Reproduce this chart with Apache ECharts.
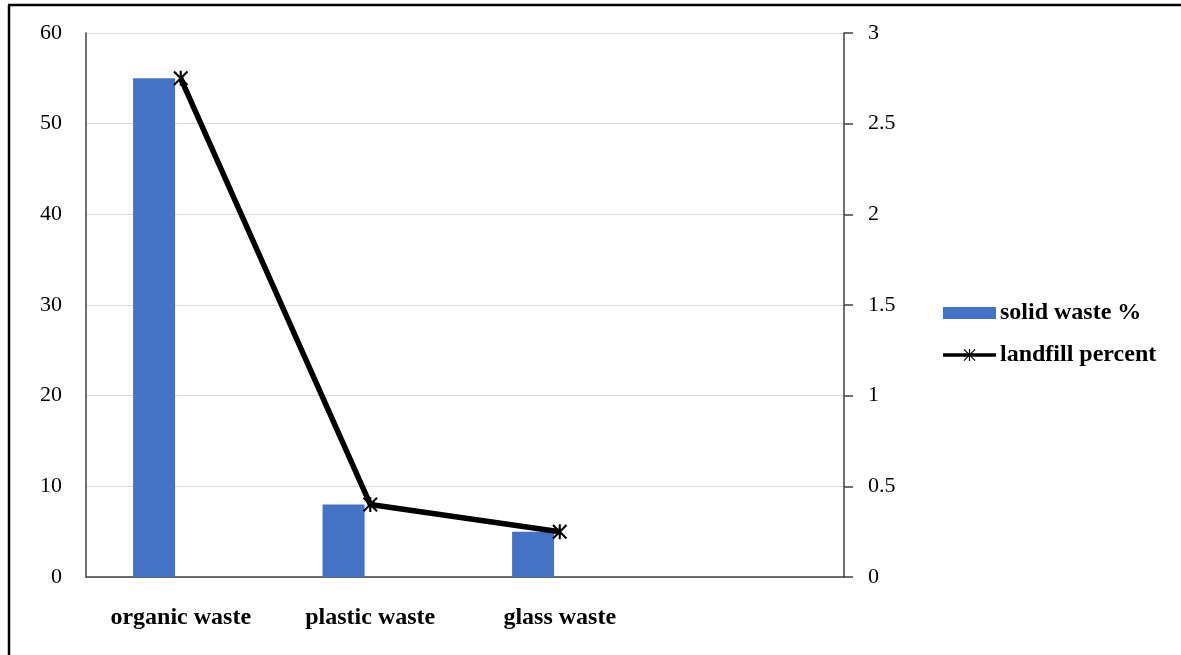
<!DOCTYPE html>
<html>
<head>
<meta charset="utf-8">
<script src="https://cdn.jsdelivr.net/npm/echarts@6/dist/echarts.min.js"></script>
<style>
html,body{margin:0;padding:0;background:#fff;}
#chart{width:1181px;height:655px;}
</style>
</head>
<body>
<div id="chart"></div>
<script>
var categories = ['organic waste', 'plastic waste', 'glass waste', ''];
var solidWaste = [55, 8, 5, null];
var landfillPercent = [2.75, 0.4, 0.25, null];
var leftTicks = {min: 0, max: 60, interval: 10};
var rightTicks = {min: 0, max: 3, interval: 0.5};

var FONT = '"Liberation Serif", "Times New Roman", "DejaVu Serif", serif';
var STAR = 'path://M4.3 0 L5.7 0 L5.7 10 L4.3 10 Z M0 1 L1 0 L10 9 L9 10 Z M9 0 L10 1 L1 10 L0 9 Z';
var LEGEND_LINE_STAR = 'path://M0 4.2 L53 4.2 L53 7.8 L0 7.8 Z ' +
  'M25.9 0 L27.1 0 L27.1 12 L25.9 12 Z ' +
  'M20.5 0.8 L21.3 0 L32.5 11.2 L31.7 12 Z ' +
  'M31.7 0 L32.5 0.8 L21.3 12 L20.5 11.2 Z';

var chart = echarts.init(document.getElementById('chart'), null, {renderer: 'canvas'});
chart.setOption({
  backgroundColor: '#ffffff',
  animation: false,
  textStyle: {fontFamily: FONT},
  grid: {left: 86, right: 337, top: 33, bottom: 78, containLabel: false},
  legend: {
    data: [
      {name: 'solid waste %', icon: 'rect'},
      {name: 'landfill percent', icon: LEGEND_LINE_STAR, itemStyle: {color: '#000', borderWidth: 0}}
    ],
    orient: 'vertical',
    left: 943,
    top: 300,
    padding: 0,
    itemWidth: 53,
    itemHeight: 12,
    itemGap: 16,
    textStyle: {fontFamily: FONT, fontSize: 24, fontWeight: 'bold', color: '#000', lineHeight: 26, padding: [0, 0, 0, -1]}
  },
  xAxis: {
    type: 'category',
    data: categories,
    axisLine: {show: true, lineStyle: {color: '#404040', width: 1.5}},
    axisTick: {show: false},
    axisLabel: {fontFamily: FONT, fontSize: 24, fontWeight: 'bold', color: '#000', margin: 29, interval: 0}
  },
  yAxis: [
    {
      type: 'value',
      min: leftTicks.min, max: leftTicks.max, interval: leftTicks.interval,
      position: 'left',
      axisLine: {show: true, lineStyle: {color: '#404040', width: 1.5}},
      axisTick: {show: false},
      axisLabel: {fontFamily: FONT, fontSize: 22, color: '#000', margin: 24},
      splitLine: {show: true, lineStyle: {color: '#d9d9d9', width: 1}}
    },
    {
      type: 'value',
      min: rightTicks.min, max: rightTicks.max, interval: rightTicks.interval,
      position: 'right',
      axisLine: {show: true, lineStyle: {color: '#404040', width: 1.5}},
      axisTick: {show: true, inside: false, length: 9, lineStyle: {color: '#404040', width: 1.5}},
      axisLabel: {fontFamily: FONT, fontSize: 22, color: '#000', margin: 24},
      splitLine: {show: false}
    }
  ],
  series: [
    {
      name: 'solid waste %',
      type: 'bar',
      yAxisIndex: 0,
      data: solidWaste,
      barWidth: 42,
      barGap: '27%',
      itemStyle: {color: '#4472C4'}
    },
    {
      name: 'spacer',
      type: 'bar',
      yAxisIndex: 0,
      data: [null, null, null, null],
      barWidth: 42,
      itemStyle: {color: 'transparent'}
    },
    {
      name: 'landfill percent',
      type: 'line',
      yAxisIndex: 1,
      data: landfillPercent,
      symbol: STAR,
      symbolSize: [15, 15],
      showAllSymbol: true,
      lineStyle: {color: '#000', width: 5.5},
      itemStyle: {color: '#000', borderWidth: 0}
    }
  ],
  graphic: [
    {type: 'line', shape: {x1: 9, y1: 5, x2: 9, y2: 655}, style: {stroke: '#000', lineWidth: 2.5}, silent: true},
    {type: 'line', shape: {x1: 8, y1: 5, x2: 1181, y2: 5}, style: {stroke: '#000', lineWidth: 2.5}, silent: true}
  ]
});
</script>
</body>
</html>
